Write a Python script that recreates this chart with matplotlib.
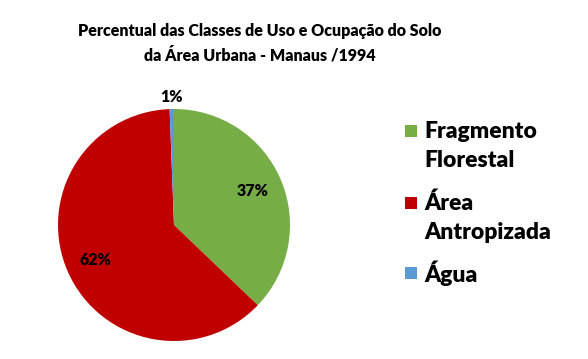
import matplotlib
matplotlib.use("Agg")
import matplotlib.pyplot as plt
from matplotlib.patches import Rectangle
import numpy as np

categories = ["Fragmento\nFlorestal", "Área\nAntropizada", "Água"]
values = [37, 62, 0.6]
colors = ["#77AD46", "#C00000", "#5B9BD5"]
title = "Percentual das Classes de Uso e Ocupação do Solo\nda Área Urbana - Manaus /1994"

plt.rcParams['font.family'] = ['Lato', 'DejaVu Sans']
W = 'heavy'

fig = plt.figure(figsize=(5.88, 3.59), dpi=100)
ax = fig.add_axes([58/588, 18/359, 232/588, 232/359])

wedges, texts, autotexts = ax.pie(values, colors=colors, startangle=90, counterclock=False,
                                  autopct=lambda p: f"{p:.0f}%", pctdistance=0.74,
                                  textprops=dict(fontsize=11.5, fontweight=W, color='black'),
                                  wedgeprops=dict(linewidth=0))
w = wedges[2]
ang = np.deg2rad((w.theta1 + w.theta2) / 2)
autotexts[2].set_position((1.1 * np.cos(ang), 1.1 * np.sin(ang)))
ax.set_xlim(-1, 1)
ax.set_ylim(-1, 1)
ax.set_aspect('equal')

fig.text(260/588, 1 - 43/359, title, ha='center', va='center', fontsize=11.5,
         fontweight=W, linespacing=1.6)

# legend (entry first-line y positions in pixels from top; line step)
entry_y = [131, 203, 273]
line_step = 29.5
H, Wd = 359, 588
for lab, col, y0 in zip(categories, colors, entry_y):
    fig.patches.append(Rectangle(((405) / Wd, 1 - (y0 + 6) / H), 12 / Wd, 12 / H,
                                 transform=fig.transFigure, facecolor=col, edgecolor='none'))
    for k, line in enumerate(lab.split("\n")):
        fig.text(424 / Wd, 1 - (y0 + k * line_step) / H, line, ha='left', va='center',
                 fontsize=16.5, fontweight=W)

fig.savefig("out.png", dpi=100)
